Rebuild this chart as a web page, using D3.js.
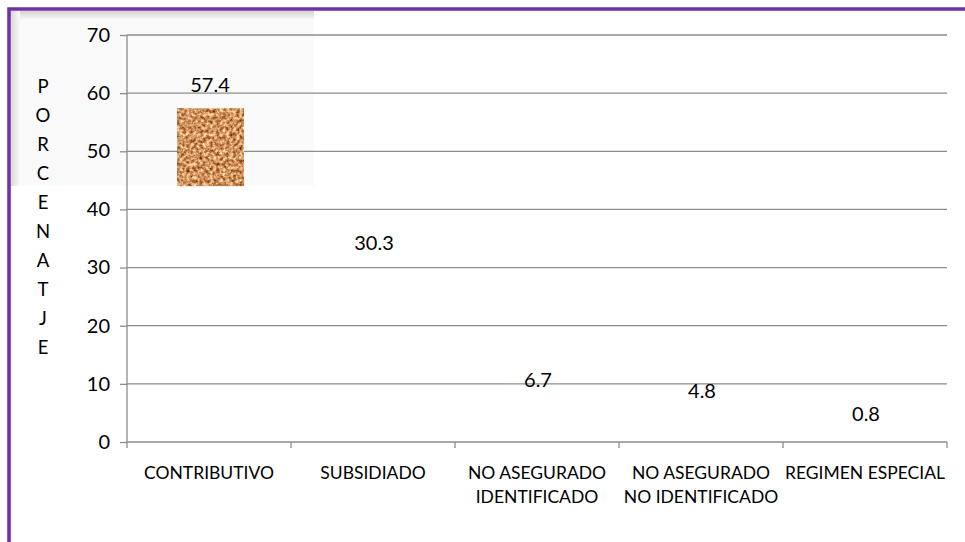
<!DOCTYPE html>
<html><head><meta charset="utf-8">
<script src="https://cdn.jsdelivr.net/npm/d3@7"></script>
<style>
body{margin:0;background:#fff}
svg{display:block}
text{font-family:Lato,"Open Sans",sans-serif;fill:#000}
</style>
</head><body>
<svg id="c" width="965" height="542"></svg>
<script>
// ---- data ----
const categories = ["CONTRIBUTIVO", "SUBSIDIADO", "NO ASEGURADO\nIDENTIFICADO", "NO ASEGURADO\nNO IDENTIFICADO", "REGIMEN ESPECIAL"];
const values = [57.4, 30.3, 6.7, 4.8, 0.8];
const yTicks = [0, 10, 20, 30, 40, 50, 60, 70];
const axisTitle = "PORCENATJE";
// lower end of the visible picture fill of each bar (null = fill not visible)
const fillFloor = [44, null, null, null, null];

// ---- layout ----
const W = 965, H = 542;
const svg = d3.select("#c");
const defs = svg.append("defs");

// frame shading (top-left shadow area)
const gTop = defs.append("linearGradient").attr("id","gTop").attr("x1",0).attr("y1",0).attr("x2",0).attr("y2",1);
gTop.append("stop").attr("offset",0).attr("stop-color","#d4d4d4");
gTop.append("stop").attr("offset",1).attr("stop-color","#fafafa");
const gLeft = defs.append("linearGradient").attr("id","gLeft").attr("x1",0).attr("y1",0).attr("x2",1).attr("y2",0);
gLeft.append("stop").attr("offset",0).attr("stop-color","#d8d8d8");
gLeft.append("stop").attr("offset",1).attr("stop-color","#fafafa");

// cork texture
const f = defs.append("filter").attr("id","cork").attr("x",0).attr("y",0).attr("width",1).attr("height",1)
  .attr("color-interpolation-filters","sRGB");
f.append("feTurbulence").attr("type","fractalNoise").attr("baseFrequency","0.3").attr("numOctaves",3).attr("seed",7).attr("result","n");
f.append("feColorMatrix").attr("in","n").attr("type","matrix")
  .attr("values","1.0 0 0 0 0.31  1.15 0 0 0 0.0  1.15 0 0 0 -0.2  0 0 0 0 1").attr("result","c");
f.append("feComposite").attr("in","c").attr("in2","SourceGraphic").attr("operator","in");

svg.append("rect").attr("x",11).attr("y",11).attr("width",303).attr("height",175).attr("fill","#fafafa");
svg.append("rect").attr("x",11).attr("y",11).attr("width",303).attr("height",9).attr("fill","url(#gTop)");
svg.append("rect").attr("x",11).attr("y",11).attr("width",9).attr("height",175).attr("fill","url(#gLeft)");

// purple border (top + left)
svg.append("path").attr("d",`M9,${H} L9,9 L${W},9`).attr("fill","none")
  .attr("stroke","#7232a2").attr("stroke-width",3.6);

const y = d3.scaleLinear().domain([0,70]).range([442,35]);
const x = d3.scaleBand().domain(categories).range([127,947]).padding(0);
const barW = 67;
const grid = "#8c8c8c";

// gridlines + y ticks
const yAxis = d3.axisLeft(y).tickValues(yTicks).tickSize(7).tickPadding(10).tickFormat(d3.format("d"));
const ya = svg.append("g").attr("transform","translate(127,0)").call(yAxis);
ya.select(".domain").attr("stroke",grid).attr("stroke-width",1.3).attr("d","M0,35V442");
ya.selectAll(".tick line").attr("stroke",grid).attr("stroke-width",1.3);
ya.selectAll(".tick text").style("font-size","20px").attr("fill","#000");
svg.append("g").selectAll("line").data(yTicks).join("line")
  .attr("x1",127).attr("x2",947).attr("y1",d=>y(d)).attr("y2",d=>y(d))
  .attr("stroke",grid).attr("stroke-width",1.3);

// x axis ticks at band boundaries
const bounds = categories.map(c=>x(c)+x.bandwidth()).concat([x(categories[0])]);
svg.append("g").selectAll("line").data(bounds).join("line")
  .attr("x1",d=>d).attr("x2",d=>d).attr("y1",442).attr("y2",448)
  .attr("stroke",grid).attr("stroke-width",1.3);

// category labels
const cl = svg.append("g").selectAll("text").data(categories).join("text")
  .attr("text-anchor","middle").style("font-size","17.5px")
  .attr("transform",c=>`translate(${x(c)+x.bandwidth()/2},479)`);
cl.selectAll("tspan").data(c=>c.split("\n")).join("tspan")
  .attr("x",0).attr("dy",(d,i)=>i===0?0:24).text(d=>d);

// bars (visible picture fill only)
svg.append("g").selectAll("rect").data(values.map((v,i)=>({v,i,c:categories[i],lo:fillFloor[i]})).filter(d=>d.lo!==null))
  .join("rect")
  .attr("x",d=>x(d.c)+x.bandwidth()/2-barW/2+1.5).attr("width",barW)
  .attr("y",d=>y(d.v)).attr("height",d=>y(d.lo)-y(d.v))
  .attr("fill","#c99560").attr("filter","url(#cork)");

// data labels
svg.append("g").selectAll("text").data(values).join("text")
  .attr("x",(v,i)=>x(categories[i])+x.bandwidth()/2+1)
  .attr("y",v=>y(v)-23).attr("dy","0.35em")
  .attr("text-anchor","middle").style("font-size","20px")
  .text(v=>d3.format(".1f")(v));

// axis title (stacked letters)
svg.append("g").selectAll("text").data(axisTitle.split("")).join("text")
  .attr("x",43).attr("y",(d,i)=>87+i*29).attr("dy","0.35em")
  .attr("text-anchor","middle").style("font-size","18.5px").text(d=>d);
</script>
</body></html>
